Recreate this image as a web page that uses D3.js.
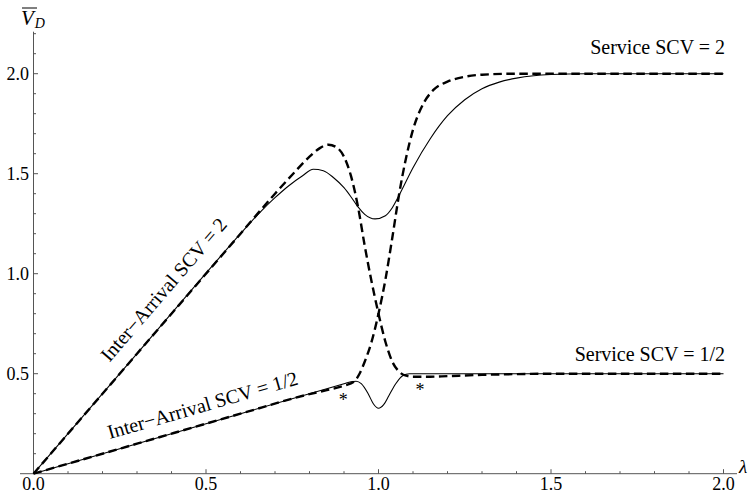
<!DOCTYPE html>
<html><head><meta charset="utf-8">
<script src="https://cdn.jsdelivr.net/npm/d3@7"></script>
<style>
html,body{margin:0;padding:0;background:#fff;}
svg{display:block;}
svg text{font-family:'Liberation Serif','DejaVu Serif','Times New Roman',Times,serif;fill:#000;}
</style></head>
<body>
<svg id="chart" width="751" height="496"></svg>
<script>
// ---- data ----
const xTicks = [0.0, 0.5, 1.0, 1.5, 2.0];
const yTicks = [0.5, 1.0, 1.5, 2.0];
const xTickLabels = ["0.0", "0.5", "1.0", "1.5", "2.0"];
const yTickLabels = ["0.5", "1.0", "1.5", "2.0"];

// Solid: inter-arrival SCV 2 -> service SCV 2
const lamSolidA = [0, 0.3, 0.6, 0.63, 0.66, 0.7, 0.74, 0.78, 0.811, 0.84, 0.87, 0.9, 0.92, 0.94, 0.96, 0.99, 1.02, 1.04, 1.062, 1.1, 1.15, 1.2, 1.25, 1.3, 1.35, 1.4, 1.45, 1.5, 1.6, 2.0];
const valSolidA = [0, 0.6, 1.2, 1.258, 1.313, 1.38, 1.44, 1.49, 1.522, 1.515, 1.48, 1.43, 1.385, 1.335, 1.297, 1.274, 1.29, 1.33, 1.40, 1.53, 1.675, 1.79, 1.87, 1.925, 1.958, 1.978, 1.99, 1.996, 2.0, 2.0];
// Dashed: inter-arrival SCV 2 -> service SCV 1/2
const lamDashA = [0, 0.3, 0.6, 0.7, 0.75, 0.8, 0.83, 0.855, 0.88, 0.9, 0.92, 0.94, 0.96, 0.98, 1.0, 1.02, 1.04, 1.06, 1.08, 1.1, 1.15, 1.2, 1.3, 1.4, 1.5, 2.0];
const valDashA = [0, 0.6, 1.2, 1.4, 1.495, 1.585, 1.628, 1.645, 1.63, 1.585, 1.49, 1.34, 1.14, 0.96, 0.80, 0.66, 0.56, 0.51, 0.49, 0.485, 0.485, 0.488, 0.494, 0.498, 0.5, 0.5];
// Dashed: inter-arrival SCV 1/2 -> service SCV 2
const lamDashB = [0, 0.3, 0.6, 0.8, 0.85, 0.9, 0.93, 0.945, 0.96, 0.98, 1.0, 1.02, 1.04, 1.06, 1.08, 1.1, 1.13, 1.16, 1.2, 1.25, 1.3, 1.4, 2.0];
const valDashB = [0, 0.15, 0.3, 0.398, 0.418, 0.44, 0.462, 0.50, 0.56, 0.66, 0.80, 0.97, 1.18, 1.40, 1.58, 1.72, 1.85, 1.92, 1.96, 1.985, 1.995, 2.0, 2.0];
// Solid: inter-arrival SCV 1/2 -> service SCV 1/2
const lamSolidB = [0, 0.3, 0.6, 0.9, 0.92, 0.935, 0.95, 0.97, 0.985, 1.0, 1.015, 1.03, 1.05, 1.07, 1.09, 1.12, 2.0];
const valSolidB = [0, 0.15, 0.3, 0.45, 0.46, 0.462, 0.45, 0.40, 0.35, 0.327, 0.345, 0.39, 0.45, 0.49, 0.5, 0.5, 0.5];

// asterisk markers
const starLam = [0.898, 1.12];
const starVal = [0.385, 0.435];

// line labels
const slopeLabels = ["Inter\u2212Arrival SCV = 2", "Inter\u2212Arrival SCV = 1/2"];
const slopeValues = [2, 0.5];
const slopeLabelLam = [0.425, 0.505];
const serviceLabels = ["Service SCV = 2", "Service SCV = 1/2"];
const serviceValues = [2, 0.5];

// ---- drawing ----
const FONT = "'Liberation Serif','DejaVu Serif','Times New Roman',Times,serif";
const svg = d3.select("#chart");
const x = d3.scaleLinear().domain([0, 2]).range([33.5, 723.5]);
const y = d3.scaleLinear().domain([0, 2]).range([473.7, 73.7]);
const axisColor = "#555";
const txt = () => svg.append("text").attr("font-family", FONT).attr("fill", "#000");

// axes lines
svg.append("line").attr("x1", 20).attr("x2", 737).attr("y1", y(0)).attr("y2", y(0))
  .attr("stroke", axisColor).attr("stroke-width", 1);
svg.append("line").attr("x1", x(0)).attr("x2", x(0)).attr("y1", y(0)).attr("y2", y(2.21))
  .attr("stroke", axisColor).attr("stroke-width", 1);

// x ticks
const xMinor = d3.range(0, 21).map(i => i / 10);
xMinor.forEach((v, i) => {
  const major = i % 5 === 0;
  svg.append("line").attr("x1", x(v)).attr("x2", x(v))
    .attr("y1", y(0)).attr("y2", y(0) - (major ? 4.5 : 2.5))
    .attr("stroke", axisColor).attr("stroke-width", 1);
});
xTicks.forEach((v, i) => {
  txt().attr("x", x(v)).attr("y", 490).attr("text-anchor", "middle")
    .attr("font-size", 18).text(xTickLabels[i]);
});
// y ticks
const yMinor = d3.range(1, 23).map(i => i / 10);
yMinor.forEach((v) => {
  const major = Math.abs(v * 2 - Math.round(v * 2)) < 1e-9;
  svg.append("line").attr("x1", x(0)).attr("x2", x(0) + (major ? 4.5 : 2.5))
    .attr("y1", y(v)).attr("y2", y(v))
    .attr("stroke", axisColor).attr("stroke-width", 1);
});
yTicks.forEach((v, i) => {
  txt().attr("x", 29).attr("y", y(v) + 6).attr("text-anchor", "end")
    .attr("font-size", 18).text(yTickLabels[i]);
});

// axis labels
txt().attr("x", 739).attr("y", 473).attr("font-size", 19)
  .attr("font-style", "italic").text("\u03BB");
const yl = txt().attr("x", 21).attr("y", 25).attr("font-size", 21).attr("font-style", "italic");
yl.append("tspan").text("V");
yl.append("tspan").attr("font-size", 14).attr("dy", 3).attr("dx", 1).text("D");
svg.append("line").attr("x1", 22).attr("x2", 37).attr("y1", 8).attr("y2", 8)
  .attr("stroke", "#000").attr("stroke-width", 1);

// curves
const line = d3.line().x(d => x(d[0])).y(d => y(d[1])).curve(d3.curveMonotoneX);
const zip = (a, b) => a.map((v, i) => [v, b[i]]);
svg.append("path").datum(zip(lamSolidA, valSolidA)).attr("d", line)
  .attr("fill", "none").attr("stroke", "#000").attr("stroke-width", 1.1);
svg.append("path").datum(zip(lamSolidB, valSolidB)).attr("d", line)
  .attr("fill", "none").attr("stroke", "#000").attr("stroke-width", 1.1);
svg.append("path").datum(zip(lamDashA, valDashA)).attr("d", line)
  .attr("fill", "none").attr("stroke", "#000").attr("stroke-width", 2.4).attr("stroke-dasharray", "8.5,4.5");
svg.append("path").datum(zip(lamDashB, valDashB)).attr("d", line)
  .attr("fill", "none").attr("stroke", "#000").attr("stroke-width", 2.4).attr("stroke-dasharray", "8.5,4.5");

// asterisks
starLam.forEach((l, i) => {
  txt().attr("x", x(l)).attr("y", y(starVal[i]) + 9).attr("text-anchor", "middle")
    .attr("font-size", 18).text("*");
});

// slope labels
const slopeOffsets = [-15, -12];
slopeLabels.forEach((t, i) => {
  const s = slopeValues[i];
  const ang = Math.atan2(y(s) - y(0), x(1) - x(0)) * 180 / Math.PI;
  const l = slopeLabelLam[i];
  txt()
    .attr("transform", `translate(${x(l)},${y(s * l)}) rotate(${ang})`)
    .attr("x", 0).attr("y", slopeOffsets[i]).attr("text-anchor", "middle")
    .attr("font-size", 20).text(t);
});
// service labels
const serviceOffsets = [-20, -13];
serviceLabels.forEach((t, i) => {
  txt().attr("x", 725).attr("y", y(serviceValues[i]) + serviceOffsets[i])
    .attr("text-anchor", "end").attr("font-size", 20).text(t);
});
</script>
</body></html>
